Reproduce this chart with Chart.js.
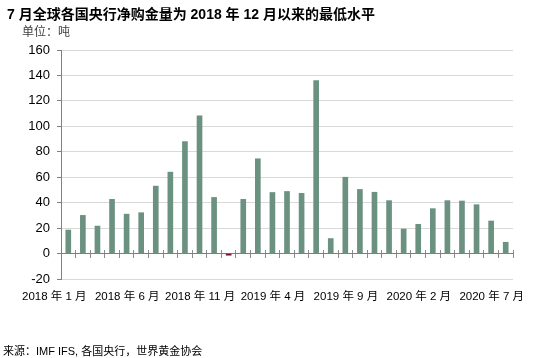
<!DOCTYPE html>
<html>
<head>
<meta charset="utf-8">
<script src="https://cdn.jsdelivr.net/npm/chart.js@4/dist/chart.umd.min.js"></script>
<style>
  html, body { margin: 0; padding: 0; background: #fff; }
  #wrap { position: relative; width: 550px; height: 358px; overflow: hidden; }
  #c { position: absolute; left: 0; top: 0; }
  .txt { position: absolute; white-space: pre; font-family: "Liberation Sans", "Noto Sans CJK SC", sans-serif; }
  #title { left: 7px; top: 3px; font-size: 14px; font-weight: bold; color: #000; }
  #unit { left: 22px; top: 22px; font-size: 12px; color: #404040; }
  #source { left: 3px; top: 342px; font-size: 11px; color: #000; }
</style>
</head>
<body>
<div id="wrap">
  <canvas id="c" width="550" height="358"></canvas>
  <div class="txt" id="title">7 月全球各国央行净购金量为 2018 年 12 月以来的最低水平</div>
  <div class="txt" id="unit">单位：吨</div>
  <div class="txt" id="source">来源：IMF IFS, 各国央行，世界黄金协会</div>
</div>
<script>
const categories = [
  "2018 年 1 月", "2018 年 2 月", "2018 年 3 月", "2018 年 4 月", "2018 年 5 月", "2018 年 6 月",
  "2018 年 7 月", "2018 年 8 月", "2018 年 9 月", "2018 年 10 月", "2018 年 11 月", "2018 年 12 月",
  "2019 年 1 月", "2019 年 2 月", "2019 年 3 月", "2019 年 4 月", "2019 年 5 月", "2019 年 6 月",
  "2019 年 7 月", "2019 年 8 月", "2019 年 9 月", "2019 年 10 月", "2019 年 11 月", "2019 年 12 月",
  "2020 年 1 月", "2020 年 2 月", "2020 年 3 月", "2020 年 4 月", "2020 年 5 月", "2020 年 6 月",
  "2020 年 7 月"
];
const netPurchases = [
  18.5, 30, 21.6, 42.6, 31, 32.1, 53, 64, 88, 108.2, 44.1, -1.3,
  42.6, 74.5, 48, 48.8, 47.3, 135.9, 11.8, 60, 50.4, 48.2, 41.6, 19.3,
  23, 35.3, 41.6, 41.3, 38.4, 25.6, 8.9
];
const yTicks = [-20, 0, 20, 40, 60, 80, 100, 120, 140, 160];

const posColor = '#6b9180';
const negColor = '#7b1631';

new Chart(document.getElementById('c'), {
  type: 'bar',
  data: {
    labels: categories,
    datasets: [{
      data: netPurchases,
      backgroundColor: netPurchases.map(v => v < 0 ? negColor : posColor),
      borderWidth: 0,
      barThickness: 5
    }]
  },
  options: {
    responsive: false,
    animation: false,
    devicePixelRatio: 1,
    layout: { padding: { left: 0, right: 37, top: 50, bottom: 0 } },
    plugins: { legend: { display: false }, tooltip: { enabled: false }, title: { display: false } },
    scales: {
      x: {
        type: 'category',
        position: 'bottom',
        offset: true,
        grid: { display: false, drawTicks: false },
        border: { display: false },
        ticks: {
          autoSkip: false,
          maxRotation: 0,
          minRotation: 0,
          padding: 11,
          labelOffset: -14,
          color: '#000',
          font: { family: '"Liberation Sans", "Noto Sans CJK SC", sans-serif', size: 11.5 },
          callback: function(val, idx) { return idx % 5 === 0 ? categories[idx] : ''; }
        },
        afterFit: s => { s.height = 79; }
      },
      xt: {
        type: 'category',
        position: { y: 3.1 },
        offset: true,
        grid: { offset: true, drawOnChartArea: false, drawTicks: true, tickLength: 8, tickColor: '#8c8c8c', lineWidth: 1 },
        border: { display: false },
        ticks: { display: false },
        afterFit: s => { s.height = 0; }
      },
      y: {
        min: -20,
        max: 160,
        afterBuildTicks: s => { s.ticks = yTicks.map(v => ({ value: v })); },
        grid: {
          color: ctx => (ctx.tick && ctx.tick.value === 0) ? '#7f7f7f' : '#d9d9d9',
          tickColor: '#808080',
          tickLength: 4,
          lineWidth: 1
        },
        border: { display: true, color: '#808080', width: 1 },
        ticks: {
          padding: 7,
          color: '#000',
          font: { family: '"Liberation Sans", Arial, sans-serif', size: 13 }
        },
        afterFit: s => { s.width = 61; }
      }
    }
  }
});
</script>
</body>
</html>
